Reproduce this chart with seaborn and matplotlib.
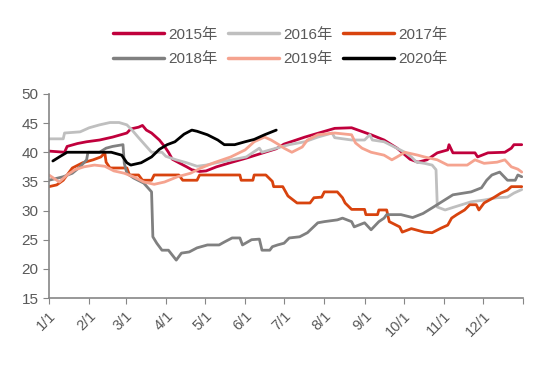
import pandas as pd
import matplotlib
matplotlib.use("Agg")
import matplotlib.pyplot as plt
import seaborn as sns

# ================================================================
YEAR = "year"
DATE = "date"
VAL = "value"

d2015 = ["01-01", "01-13", "01-15", "01-23", "01-30", "02-09", "02-19", "03-02", "03-05", "03-11",
         "03-14", "03-17", "03-21", "03-27", "03-31", "04-03", "04-06", "04-11", "04-17", "04-21",
         "04-27", "05-02", "05-10", "05-22", "06-02", "06-12", "06-25", "07-01", "07-17", "08-09",
         "08-22", "09-06", "09-16", "09-26", "10-06", "10-12", "10-19", "10-27", "11-04", "11-05",
         "11-08", "11-25", "11-27", "12-05", "12-18", "12-23", "12-25", "12-31"]
v2015 = [40.2, 40.0, 41.0, 41.5, 41.8, 42.1, 42.6, 43.3, 44.0, 44.3,
         44.6, 43.8, 43.3, 42.1, 41.0, 40.0, 38.8, 38.2, 37.5, 37.0,
         36.7, 36.8, 37.5, 38.3, 39.0, 39.7, 40.6, 41.4, 42.6, 44.1,
         44.2, 43.0, 42.1, 40.7, 38.8, 38.3, 38.7, 39.9, 40.4, 41.3,
         39.9, 39.9, 39.2, 39.9, 40.0, 40.7, 41.3, 41.3]

d2016 = ["01-01", "01-12", "01-13", "01-25", "02-01", "02-09", "02-17", "02-24", "03-02", "03-06",
         "03-11", "03-17", "03-21", "03-29", "04-01", "04-09", "04-17", "04-25", "05-02", "05-10",
         "05-22", "06-02", "06-12", "06-14", "06-25", "07-05", "07-17", "07-27", "08-07", "08-09",
         "08-22", "09-01", "09-05", "09-07", "09-16", "09-24", "10-02", "10-07", "10-11", "10-17",
         "10-23", "10-26", "10-27", "11-02", "11-09", "11-22", "12-02", "12-12", "12-20", "12-25",
         "12-31"]
v2016 = [42.3, 42.3, 43.3, 43.5, 44.2, 44.7, 45.1, 45.1, 44.7, 43.8,
         42.5, 41.0, 40.0, 40.0, 39.3, 38.7, 38.2, 37.6, 37.8, 38.2,
         38.7, 39.2, 40.7, 40.0, 40.7, 41.3, 41.8, 42.6, 43.3, 42.5,
         42.1, 42.1, 43.0, 42.1, 41.8, 40.9, 40.0, 39.2, 38.3, 38.1,
         37.8, 37.0, 30.6, 30.1, 30.6, 31.5, 31.8, 32.2, 32.3, 33.0,
         33.6]

d2017 = ["01-01", "01-07", "01-12", "01-16", "01-19", "01-27", "02-04", "02-10", "02-13", "02-14",
         "02-17", "03-02", "03-04", "03-11", "03-14", "03-21", "03-23", "04-11", "04-14", "04-25",
         "04-27", "05-28", "05-29", "06-07", "06-08", "06-17", "06-22", "06-23", "06-30", "07-04",
         "07-11", "07-21", "07-24", "07-30", "08-01", "08-11", "08-15", "08-17", "08-22", "09-01",
         "09-02", "09-11", "09-12", "09-18", "09-20", "09-28", "09-30", "10-07", "10-17", "10-23",
         "10-30", "11-04", "11-07", "11-11", "11-17", "11-21", "11-26", "11-28", "12-02", "12-06",
         "12-10", "12-15", "12-20", "12-23", "12-31"]
v2017 = [34.1, 34.4, 35.2, 36.4, 37.3, 38.2, 38.7, 39.2, 39.9, 38.3,
         37.3, 37.3, 36.1, 36.1, 35.2, 35.2, 36.1, 36.1, 35.2, 35.2,
         36.1, 36.1, 35.2, 35.2, 36.1, 36.1, 35.0, 34.1, 34.1, 32.5,
         31.3, 31.3, 32.2, 32.3, 33.2, 33.2, 32.2, 31.3, 30.2, 30.2,
         29.3, 29.3, 30.1, 30.1, 28.1, 27.2, 26.3, 26.9, 26.3, 26.2,
         27.0, 27.5, 28.7, 29.3, 30.1, 31.0, 31.0, 30.1, 31.3, 31.8,
         32.3, 33.0, 33.5, 34.1, 34.1]

d2018 = ["01-01", "01-12", "01-19", "01-25", "01-30", "01-31", "02-09", "02-14", "02-19", "02-27",
         "02-28", "03-02", "03-07", "03-15", "03-21", "03-22", "03-25", "03-29", "04-03", "04-09",
         "04-13", "04-19", "04-25", "05-03", "05-12", "05-16", "05-22", "05-28", "05-30", "06-06",
         "06-12", "06-14", "06-20", "06-22", "06-26", "07-01", "07-05", "07-13", "07-19", "07-27",
         "08-01", "08-11", "08-15", "08-22", "08-24", "09-01", "09-06", "09-12", "09-16", "09-18",
         "09-29", "10-08", "10-16", "10-24", "10-29", "11-08", "11-22", "11-30", "12-04", "12-08",
         "12-14", "12-20", "12-26", "12-28", "12-31"]
v2018 = [35.2, 35.8, 36.4, 37.5, 38.7, 40.0, 40.0, 40.7, 41.0, 41.3,
         38.1, 36.4, 35.6, 34.7, 33.2, 25.5, 24.4, 23.2, 23.2, 21.5,
         22.7, 22.9, 23.6, 24.1, 24.1, 24.6, 25.3, 25.3, 24.1, 25.0,
         25.1, 23.2, 23.2, 23.8, 24.1, 24.4, 25.3, 25.5, 26.2, 27.9,
         28.1, 28.4, 28.7, 28.1, 27.2, 27.9, 26.7, 28.1, 28.7, 29.3,
         29.3, 28.8, 29.5, 30.6, 31.3, 32.7, 33.2, 33.9, 35.2, 36.1,
         36.6, 35.2, 35.2, 36.1, 35.8]

d2019 = ["01-01", "01-09", "01-15", "01-21", "01-28", "02-05", "02-13", "02-20", "02-28", "03-07",
         "03-15", "03-23", "03-31", "04-10", "04-20", "04-28", "05-08", "05-21", "06-01", "06-08",
         "06-16", "06-21", "06-27", "07-01", "07-07", "07-15", "07-19", "07-27", "08-09", "08-22",
         "08-25", "08-30", "09-06", "09-16", "09-22", "09-26", "10-02", "10-12", "10-17", "10-27",
         "11-04", "11-19", "11-25", "12-02", "12-12", "12-18", "12-23", "12-28", "12-31"]
v2019 = [36.1, 34.9, 36.1, 37.0, 37.5, 37.8, 37.6, 36.8, 36.4, 35.8,
         34.9, 34.5, 34.9, 35.8, 36.4, 37.3, 38.2, 39.2, 40.4, 41.8,
         42.6, 42.1, 41.3, 40.7, 40.0, 40.9, 42.1, 43.0, 43.3, 43.0,
         41.6, 40.7, 40.0, 39.5, 38.7, 39.2, 40.0, 39.5, 39.2, 38.7,
         37.8, 37.8, 38.7, 38.1, 38.3, 38.7, 37.5, 37.1, 36.6]

d2020 = ["01-04", "01-09", "01-15", "02-18", "02-26", "03-02", "03-05", "03-13", "03-17", "03-21",
         "03-27", "04-02", "04-08", "04-15", "04-21", "04-25", "05-03", "05-11", "05-16", "05-24",
         "06-01", "06-08", "06-16", "06-25"]
v2020 = [38.5, 39.2, 40.0, 40.0, 39.5, 38.2, 37.8, 38.2, 38.7, 39.2,
         40.5, 41.3, 41.8, 43.1, 43.8, 43.6, 43.0, 42.1, 41.3, 41.3,
         41.8, 42.2, 43.0, 43.8]

years = ["2015年", "2016年", "2017年", "2018年", "2019年", "2020年"]
colors = ["#C0003C", "#BFBFBF", "#D8430E", "#808080", "#F5A38F", "#000000"]
month_labels = ["1/1", "2/1", "3/1", "4/1", "5/1", "6/1", "7/1", "8/1", "9/1", "10/1", "11/1", "12/1", ""]
# ================================================================

series = [(d2015, v2015), (d2016, v2016), (d2017, v2017), (d2018, v2018), (d2019, v2019), (d2020, v2020)]
frames = []
for name, (d, v) in zip(years, series):
    part = pd.DataFrame({DATE: pd.to_datetime(["2021-" + s for s in d]), VAL: v})
    part[YEAR] = name
    frames.append(part)
df = pd.concat(frames, ignore_index=True)

sns.set_style("ticks")
plt.rcParams["font.family"] = ["Liberation Sans", "Noto Sans CJK SC"]

TXT = "#595959"
AX = "#868686"

fig, ax = plt.subplots(figsize=(5.5, 3.67), dpi=100)
fig.subplots_adjust(left=0.089, right=0.951, bottom=0.188, top=0.744)

sns.lineplot(ax=ax, data=df, x=DATE, y=VAL, hue=YEAR, hue_order=years,
             palette=dict(zip(years, colors)), linewidth=2.0, estimator=None)

# Configure axes.
ticks = pd.date_range("2021-01-01", periods=13, freq="MS")
ax.set_xlim(ticks[0], ticks[-1])
ax.set_xticks(ticks)
ax.set_xticklabels(month_labels, rotation=45, ha="right", rotation_mode="anchor", fontsize=10.5, color=TXT)
ax.set_ylim(15, 50)
ax.set_yticks(range(15, 51, 5))
ax.tick_params(axis="y", labelsize=11, colors=AX, labelcolor=TXT, length=4)
ax.tick_params(axis="x", colors=AX, labelcolor=TXT, length=4, pad=4)
ax.set_xlabel("")
ax.set_ylabel("")
for s in ["top", "right"]:
    ax.spines[s].set_visible(False)
for s in ["left", "bottom"]:
    ax.spines[s].set_color(AX)
    ax.spines[s].set_linewidth(1.2)

# Legend: two rows of three, filled row-wise.
handles, labels = ax.get_legend_handles_labels()
ax.legend().remove()
order = [0, 3, 1, 4, 2, 5]
leg = fig.legend([handles[i] for i in order], [labels[i] for i in order], ncol=3, loc="center",
                 bbox_to_anchor=(0.51, 0.872), frameon=False, fontsize=11, handlelength=3.3,
                 handletextpad=0.3, columnspacing=0.7, labelspacing=0.7)
for t in leg.get_texts():
    t.set_color(TXT)
for h in leg.get_lines():
    h.set_linewidth(2.5)

plt.savefig("out.png", dpi=100)
